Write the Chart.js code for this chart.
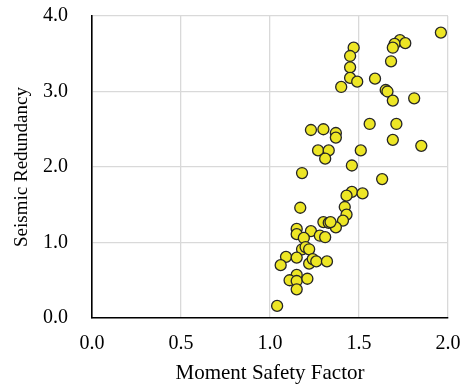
<!DOCTYPE html>
<html><head><meta charset="utf-8">
<script src="https://cdn.jsdelivr.net/npm/chart.js@4/dist/chart.umd.min.js"></script>
<style>html,body{margin:0;padding:0;background:#fff}#wrap{width:465px;height:384px}</style>
</head><body><div id="wrap"><canvas id="c" width="465" height="384"></canvas></div>
<script>
const momentSafetyFactor = [1.96,1.47,1.45,1.45,1.45,1.49,1.40,1.59,1.73,1.70,1.76,1.69,1.68,1.65,1.66,1.69,1.81,
1.23,1.30,1.37,1.37,1.56,1.71,1.69,1.85,1.27,1.33,1.31,1.51,1.46,1.18,
1.63,1.46,1.43,1.52,1.17,1.42,1.43,1.41,1.37,1.30,1.33,1.34,1.15,1.15,1.23,1.19,1.28,1.31,
1.18,1.20,1.22,1.09,1.15,1.06,1.22,1.24,1.26,1.32,1.15,1.11,1.15,1.21,1.15,1.04];
const seismicRedundancy = [3.78,3.58,3.47,3.32,3.18,3.13,3.06,3.17,3.68,3.63,3.64,3.58,3.40,3.02,3.00,2.88,2.91,
2.49,2.50,2.45,2.39,2.57,2.57,2.36,2.28,2.22,2.22,2.11,2.22,2.02,1.92,
1.84,1.67,1.62,1.65,1.46,1.47,1.37,1.29,1.20,1.27,1.26,1.27,1.18,1.11,1.15,1.06,1.09,1.07,
0.91,0.94,0.91,0.81,0.80,0.70,0.72,0.78,0.75,0.75,0.57,0.50,0.49,0.52,0.38,0.16];
const xTicks = [0.0,0.5,1.0,1.5,2.0];
const yTicks = [0.0,1.0,2.0,3.0,4.0];
const points = momentSafetyFactor.map((x,i)=>({x:x,y:seismicRedundancy[i]}));
const font = "'Liberation Serif','Times New Roman',serif";
new Chart(document.getElementById('c'),{
  type:'scatter',
  data:{datasets:[{data:points,backgroundColor:'#EDE625',borderColor:'#262626',borderWidth:1.3,pointRadius:5.5,pointHoverRadius:5.5}]},
  options:{
    responsive:false,animation:false,
    layout:{padding:{top:16,right:17,left:0,bottom:0}},
    plugins:{legend:{display:false},tooltip:{enabled:false}},
    scales:{
      x:{type:'linear',min:0,max:2,
        afterBuildTicks:s=>{s.ticks=xTicks.map(v=>({value:v}));},
        afterFit:s=>{s.height=66;s.paddingLeft=0;s.paddingRight=0;},
        grid:{color:'#d9d9d9',lineWidth:1.3,drawTicks:false},
        border:{color:'#000',width:1.6},
        ticks:{padding:14,color:'#000',font:{family:font,size:20},callback:v=>v.toFixed(1)},
        title:{display:true,text:'Moment Safety Factor',color:'#000',font:{family:font,size:21,lineHeight:1.0},padding:{top:0,bottom:0}}
      },
      y:{type:'linear',min:0,max:4,
        afterBuildTicks:s=>{s.ticks=yTicks.map(v=>({value:v}));},
        afterFit:s=>{s.width=92;s.paddingTop=0;s.paddingBottom=0;},
        grid:{color:'#d9d9d9',lineWidth:1.3,drawTicks:false},
        border:{color:'#000',width:1.6},
        ticks:{padding:24,color:'#000',font:{family:font,size:20},callback:v=>v.toFixed(1)},
        title:{display:true,text:'Seismic Redundancy',color:'#000',font:{family:font,size:19},padding:{top:11,bottom:0}}
      }
    }
  }
});
</script></body></html>
